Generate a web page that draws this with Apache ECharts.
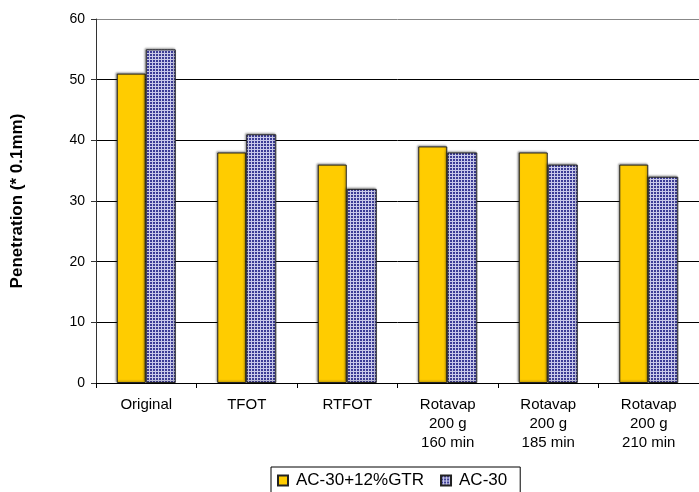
<!DOCTYPE html>
<html>
<head>
<meta charset="utf-8">
<script src="https://cdn.jsdelivr.net/npm/echarts@6/dist/echarts.min.js"></script>
<style>
  html, body { margin: 0; padding: 0; background: #fff; }
  #chart { width: 699px; height: 492px; }
</style>
</head>
<body>
<div id="chart"></div>
<script>
// Penetration of binder samples after ageing procedures
const categories = [
  'Original',
  'TFOT',
  'RTFOT',
  'Rotavap\n200 g\n160 min',
  'Rotavap\n200 g\n185 min',
  'Rotavap\n200 g\n210 min'
];
const seriesNames = ['AC-30+12%GTR', 'AC-30'];
const gtrValues = [51, 38, 36, 39, 38, 36];
const baseValues = [55, 41, 32, 38, 36, 34];
const yTicks = { min: 0, max: 60, interval: 10 };

// small checked fill for the AC-30 bars
function checkPattern() {
  const c = document.createElement('canvas');
  c.width = 3; c.height = 3;
  const g = c.getContext('2d');
  g.fillStyle = '#c9c9ea';
  g.fillRect(0, 0, 3, 3);
  g.fillStyle = '#3d3d96';
  g.fillRect(0, 0, 2, 2);
  return c;
}

const chart = echarts.init(document.getElementById('chart'));
const font = 'Arial, "Liberation Sans", sans-serif';

chart.setOption({
  animation: false,
  backgroundColor: '#fff',
  textStyle: { fontFamily: font },
  grid: { left: 96, top: 19, width: 612, height: 364, containLabel: false },
  legend: {
    data: seriesNames,
    left: 271,
    top: 467,
    padding: [5, 13, 8, 6],
    borderColor: '#000',
    borderWidth: 1,
    itemWidth: 10,
    itemHeight: 10,
    itemGap: 16,
    icon: 'rect',
    textStyle: { fontSize: 17, color: '#000', fontFamily: font, padding: [0, 0, 0, 3] }
  },
  xAxis: {
    type: 'category',
    data: categories,
    axisLine: { lineStyle: { color: '#000', width: 1 } },
    axisTick: { show: true, length: 5, lineStyle: { color: '#000' } },
    axisLabel: { color: '#000', fontSize: 15, lineHeight: 19, margin: 12, interval: 0, fontFamily: font }
  },
  yAxis: {
    type: 'value',
    min: yTicks.min,
    max: yTicks.max,
    interval: yTicks.interval,
    name: 'Penetration (* 0.1mm)',
    nameLocation: 'middle',
    nameGap: 70,
    nameTextStyle: { fontSize: 17, fontWeight: 'bold', color: '#000', fontFamily: font },
    axisLine: { show: true, lineStyle: { color: '#333' } },
    axisTick: { show: true, length: 5, lineStyle: { color: '#333' } },
    axisLabel: { color: '#000', fontSize: 14, margin: 11, fontFamily: font },
    splitLine: {
      show: true,
      lineStyle: { color: ['#000', '#000', '#000', '#000', '#000', '#000', '#888'], width: 1 }
    }
  },
  series: [
    {
      name: seriesNames[0],
      type: 'bar',
      data: gtrValues,
      barWidth: 29,
      barGap: '0%',
      itemStyle: {
        color: '#ffcc00',
        borderColor: '#222',
        borderWidth: 1,
        shadowColor: 'rgba(0,0,0,0.35)',
        shadowOffsetX: -1,
        shadowOffsetY: -1,
        shadowBlur: 2
      }
    },
    {
      name: seriesNames[1],
      type: 'bar',
      data: baseValues,
      barWidth: 30,
      itemStyle: {
        color: { image: checkPattern(), repeat: 'repeat' },
        borderColor: '#222',
        borderWidth: 1,
        shadowColor: 'rgba(0,0,0,0.35)',
        shadowOffsetX: -1,
        shadowOffsetY: -1,
        shadowBlur: 2
      }
    }
  ]
});
</script>
</body>
</html>
